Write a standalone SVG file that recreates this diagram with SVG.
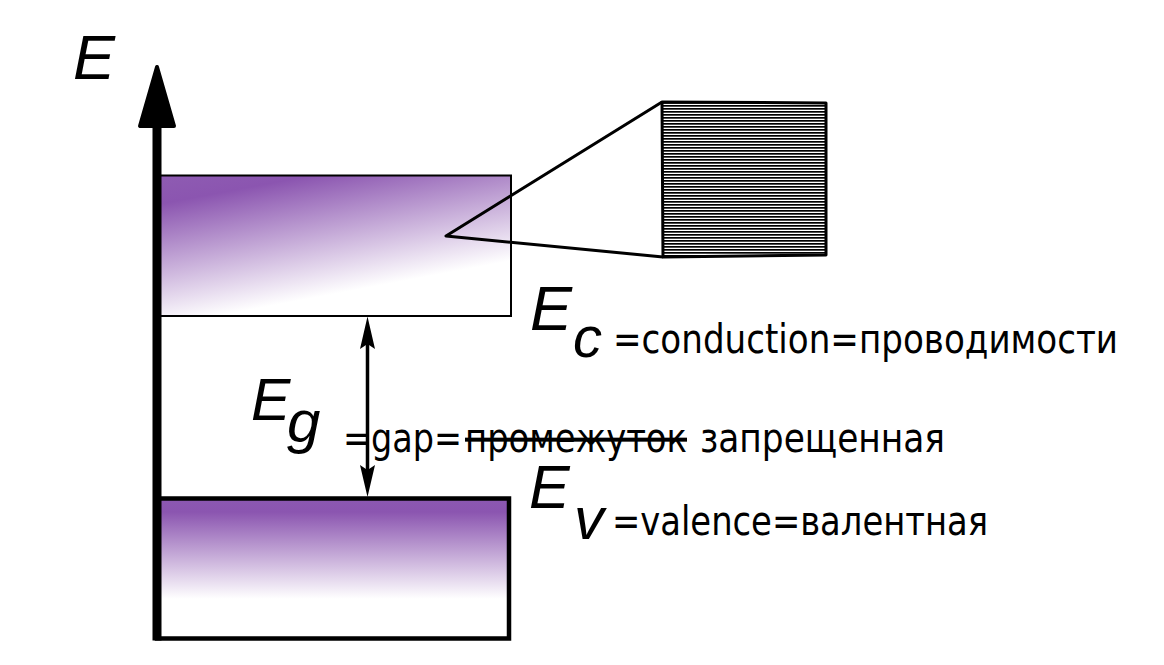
<svg xmlns="http://www.w3.org/2000/svg" width="1164" height="665" viewBox="0 0 1164 665">
  <style>
    .it { font-family: "Liberation Sans", Arial, sans-serif; font-style: italic; fill: #000; }
    .lbl { font-family: "DejaVu Sans Condensed", "DejaVu Sans", Tahoma, sans-serif; font-size: 40px; fill: #000; }
    .thin { fill: none; stroke: #000; stroke-width: 3; stroke-linejoin: round; }
  </style>
  <defs>
    <linearGradient id="gradC" gradientUnits="userSpaceOnUse" x1="200" y1="170" x2="230" y2="330">
      <stop offset="0" stop-color="#8E5BB2"/>
      <stop offset="0.16" stop-color="#8B55B0"/>
      <stop offset="0.9" stop-color="#ffffff"/>
    </linearGradient>
    <linearGradient id="gradV" gradientUnits="userSpaceOnUse" x1="0" y1="498" x2="0" y2="638">
      <stop offset="0" stop-color="#8C58B2"/>
      <stop offset="0.1" stop-color="#8B55B0"/>
      <stop offset="0.72" stop-color="#ffffff"/>
    </linearGradient>
    <pattern id="hatch" patternUnits="userSpaceOnUse" x="0" y="102" width="10" height="3">
      <rect x="0" y="0" width="10" height="1.7" fill="#000"/>
    </pattern>
  </defs>

  <rect width="1164" height="665" fill="#fff"/>

  <g id="conduction-band">
    <rect x="160" y="175.5" width="351" height="140.5" fill="url(#gradC)" stroke="#000" stroke-width="2"/>
  </g>

  <g id="valence-band">
    <rect x="157" y="498.5" width="352" height="140" fill="url(#gradV)" stroke="#000" stroke-width="4.5"/>
  </g>

  <g id="zoom-box">
    <polygon points="662,102 826,103 826,255 663,257" fill="url(#hatch)" stroke="#000" stroke-width="3" stroke-linejoin="round"/>
  </g>

  <g id="connectors">
    <polyline class="thin" points="662,102 446,236 663,257"/>
    <line x1="157" y1="110" x2="157" y2="640.5" stroke="#000" stroke-width="9"/>
    <polygon points="157,67 140,126 174,126" fill="#000" stroke="#000" stroke-width="4" stroke-linejoin="round"/>
    <line x1="367.5" y1="335" x2="367.5" y2="480" stroke="#000" stroke-width="3.5"/>
    <polygon points="367.5,316.5 360,349 367.5,344 375,349" fill="#000"/>
    <polygon points="367.5,497 360,465 367.5,470 375,465" fill="#000"/>
  </g>

  <g id="axis-label">
    <text class="it" x="73" y="79" font-size="63">E</text>
  </g>

  <g id="label-ec">
    <text class="it" x="530" y="330" font-size="63">E</text>
    <text class="it" x="573" y="357" font-size="58">c</text>
    <text class="lbl" x="613" y="353" textLength="505" lengthAdjust="spacingAndGlyphs">=conduction=проводимости</text>
  </g>

  <g id="label-eg">
    <text class="it" x="251" y="420" font-size="59">E</text>
    <text class="it" x="287" y="442" font-size="60">g</text>
    <text class="lbl" y="452"><tspan x="343" textLength="119" lengthAdjust="spacingAndGlyphs">=gap=</tspan><tspan x="465" textLength="222" lengthAdjust="spacingAndGlyphs" text-decoration="line-through">промежуток</tspan><tspan x="700" textLength="245" lengthAdjust="spacingAndGlyphs">запрещенная</tspan></text>
  </g>

  <g id="label-ev">
    <text class="it" x="529" y="508" font-size="61">E</text>
    <text class="it" x="574" y="539" font-size="60">v</text>
    <text class="lbl" x="612" y="535" textLength="376" lengthAdjust="spacingAndGlyphs">=valence=валентная</text>
  </g>
</svg>
